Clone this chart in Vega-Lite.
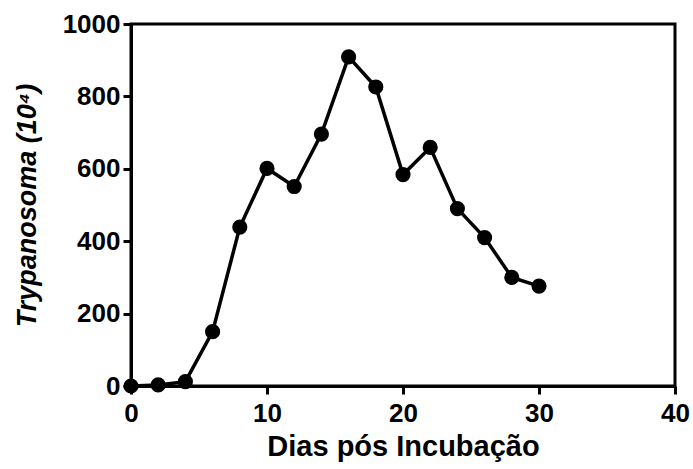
{
  "$schema": "https://vega.github.io/schema/vega-lite/v6.json",
  "autosize": "none",
  "width": 544,
  "height": 362,
  "padding": {"left": 131, "top": 24, "right": 18, "bottom": 83},
  "background": "white",
  "config": {
    "view": {"stroke": "black", "strokeWidth": 3},
    "font": "Liberation Sans",
    "axis": {
      "grid": false,
      "domainColor": "black",
      "domainWidth": 3,
      "tickColor": "black",
      "tickWidth": 3,
      "tickSize": 8,
      "labelFont": "Liberation Sans",
      "labelFontWeight": "bold",
      "labelFontSize": 26,
      "labelColor": "black",
      "labelFlush": false,
      "titleFont": "Liberation Sans",
      "titleFontWeight": "bold",
      "titleFontSize": 29,
      "titleColor": "black"
    }
  },
  "data": {
    "values": [
      {"day": 0, "count": 0},
      {"day": 2, "count": 3},
      {"day": 4, "count": 12},
      {"day": 6, "count": 150},
      {"day": 8, "count": 439},
      {"day": 10, "count": 601},
      {"day": 12, "count": 551},
      {"day": 14, "count": 696},
      {"day": 16, "count": 909},
      {"day": 18, "count": 826},
      {"day": 20, "count": 584},
      {"day": 22, "count": 659},
      {"day": 24, "count": 490},
      {"day": 26, "count": 410},
      {"day": 28, "count": 300},
      {"day": 30, "count": 276}
    ]
  },
  "encoding": {
    "x": {
      "field": "day",
      "type": "quantitative",
      "scale": {"domain": [0, 40], "nice": false, "zero": false},
      "axis": {"values": [0, 10, 20, 30, 40], "format": "d", "title": "Dias pós Incubação", "labelPadding": 6, "titlePadding": 6, "labelOverlap": false, "labelBound": false}
    },
    "y": {
      "field": "count",
      "type": "quantitative",
      "scale": {"domain": [0, 1000], "nice": false},
      "axis": {"values": [0, 200, 400, 600, 800, 1000], "format": "d", "title": "Trypanosoma (10⁴)", "titleFontStyle": "italic", "titleFontSize": 27, "labelPadding": 3, "titlePadding": 21, "labelOverlap": false, "labelBound": false}
    }
  },
  "layer": [
    {"mark": {"type": "line", "color": "black", "strokeWidth": 3.5, "clip": false}},
    {"mark": {"type": "point", "filled": true, "color": "black", "opacity": 1, "size": 230, "clip": false}}
  ]
}
